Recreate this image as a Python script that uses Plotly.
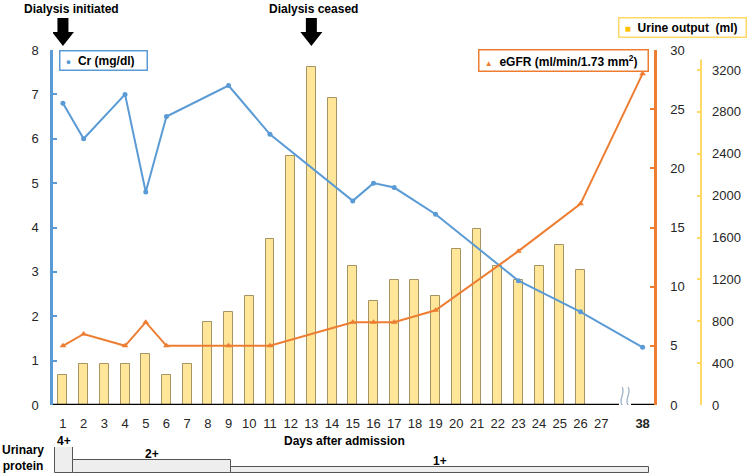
import plotly.graph_objects as go

# ---------------- data ----------------
tick_days = [str(d) for d in range(1, 28)] + ["38"]
tick_pos = list(range(1, 28)) + [29]          # day 38 is drawn after the axis break

urine_days = list(range(1, 27))
urine_ml = [290, 390, 390, 390, 490, 290, 390, 790, 890, 1040, 1590, 2380, 3230,
            2930, 1330, 990, 1190, 1190, 1040, 1490, 1680, 1330, 1190, 1330, 1530, 1290]

cr_days = [1, 2, 4, 5, 6, 9, 11, 15, 16, 17, 19, 23, 26, 38]
cr_mgdl = [6.8, 6.0, 7.0, 4.8, 6.5, 7.2, 6.1, 4.6, 5.0, 4.9, 4.3, 2.8, 2.1, 1.3]

egfr_days = [1, 2, 4, 5, 6, 9, 11, 15, 16, 17, 19, 23, 26, 38]
egfr_vals = [5, 6, 5, 7, 5, 5, 5, 7, 7, 7, 8, 13, 17, 28]

protein_labels = ["4+", "2+", "1+"]
protein_grade = [4, 2, 1]
protein_start = [0.6, 1.5, 9.1]    # axis position where each grade period starts
protein_end = [1.5, 9.1, 29.3]     # axis position where each grade period ends

event_labels = ["Dialysis initiated", "Dialysis ceased"]
event_days = [1, 13]

cr_ticks = list(range(0, 9))
egfr_ticks = list(range(0, 31, 5))
urine_ticks = list(range(0, 3201, 400))


def day_pos(d):
    return tick_pos[tick_days.index(str(d))]


# ---------------- geometry ----------------
W_FIG, H_FIG = 750, 476
L, R, T, B = 53, 12, 50, 3
PW = W_FIG - L - R
PH = H_FIG - T - B


def px(x):
    return (x - L) / PW


def py(y):
    return (H_FIG - B - y) / PH


XDOM_END = px(654)
URINE_POS = px(701)
MAIN_BOTTOM = py(405)
XR = [0.52, 29.55]

BLUE = "#5B9BD5"
ORANGE = "#ED7D31"
YELLOW = "#FFD966"
BARFILL = "#FFE699"
FONT = "Liberation Sans, Arial, sans-serif"
TXT = "#262626"
BOLD = dict(family=FONT, size=12, color="black", weight="bold")

fig = go.Figure()

fig.add_trace(go.Bar(
    x=[day_pos(d) for d in urine_days], y=urine_ml, width=0.43,
    marker=dict(color=BARFILL, line=dict(color="rgba(150,130,80,0.85)", width=1)),
    xaxis="x", yaxis="y", showlegend=False, name="Urine output (ml)"))

fig.add_trace(go.Scatter(
    x=[day_pos(d) for d in cr_days], y=cr_mgdl, mode="lines+markers",
    line=dict(color=BLUE, width=2), marker=dict(symbol="circle", size=5, color=BLUE),
    xaxis="x", yaxis="y2", showlegend=False, name="Cr (mg/dl)"))

fig.add_trace(go.Scatter(
    x=[day_pos(d) for d in egfr_days], y=egfr_vals, mode="lines+markers",
    line=dict(color=ORANGE, width=2), marker=dict(symbol="triangle-up", size=6, color=ORANGE),
    xaxis="x", yaxis="y3", showlegend=False, name="eGFR"))

protein_center = [(s + e) / 2 for s, e in zip(protein_start, protein_end)]
fig.add_trace(go.Bar(
    x=protein_center, y=protein_grade,
    width=[e - s for s, e in zip(protein_start, protein_end)],
    cliponaxis=False,
    marker=dict(color="#EEEEEE", line=dict(color="#555555", width=1)),
    xaxis="x2", yaxis="y4", showlegend=False, name="Urinary protein"))

shapes = []
# x axis baseline with a break
for x0, x1 in [(XR[0], 27.86), (28.44, XR[1])]:
    shapes.append(dict(type="line", xref="x", yref="y", x0=x0, x1=x1, y0=0, y1=0,
                       line=dict(color="black", width=2.5), layer="above"))
for dx in (-3, 3):
    shapes.append(dict(
        type="path", xref="x", yref="y", xsizemode="pixel", ysizemode="pixel",
        xanchor=28.15, yanchor=0,
        path=f"M {dx},18 C {dx+4},12 {dx-4},6 {dx},0 C {dx+4},-6 {dx-4},-12 {dx},-18",
        line=dict(color="#9DB3C8", width=1.3)))
# urine axis line
shapes.append(dict(type="line", xref="paper", yref="y", x0=URINE_POS, x1=URINE_POS,
                   y0=0, y1=3300, line=dict(color=YELLOW, width=2)))
# event arrows
for d in event_days:
    shapes.append(dict(
        type="path", xref="x", yref="paper", xsizemode="pixel", ysizemode="pixel",
        xanchor=day_pos(d), yanchor=1,
        path="M -5.5,32 L 5.5,32 L 5.5,18 L 11,18 L 0,4 L -11,18 L -5.5,18 Z",
        fillcolor="black", line=dict(width=0)))

annotations = []
for lab, d, sh in zip(event_labels, event_days, [9, 2]):
    annotations.append(dict(text=lab, x=day_pos(d), xref="x", y=py(9), yref="paper",
                            xanchor="center", yanchor="middle",
                            xshift=sh, showarrow=False, font=BOLD))

for lab, xc, g in zip(protein_labels, protein_center, protein_grade):
    annotations.append(dict(text=lab, x=xc, y=g, xref="x2", yref="y4",
                            xanchor="center", yanchor="bottom", yshift=-3,
                            showarrow=False, font=BOLD))

annotations.append(dict(text="Days after admission", x=px(344), y=py(441), xref="paper",
                        yref="paper", xanchor="center", yanchor="middle",
                        showarrow=False, font=BOLD))
annotations.append(dict(text="Urinary<br>protein", x=px(23), y=py(458), xref="paper",
                        yref="paper", xanchor="center", yanchor="middle",
                        showarrow=False, align="center", font=BOLD))

legend_boxes = [
    ("Cr (mg/dl)", "●", 9, BLUE, 59, 50, 89),
    ("eGFR (ml/min/1.73 mm<sup>2</sup>)", "▲", 8, ORANGE, 478, 49, 171),
    ("Urine output&nbsp; (ml)", "■", 10, "#FFC000", 618, 17, 129),
]
for label, glyph, gsize, col, bx, by, bw in legend_boxes:
    border = YELLOW if glyph == "■" else col
    annotations.append(dict(
        text=f"&nbsp;<span style='color:{col};font-size:{gsize}px'>{glyph}</span>&nbsp; {label}",
        x=px(bx), y=py(by), xref="paper", yref="paper", xanchor="left", yanchor="top",
        showarrow=False, align="left", width=bw - 7, borderpad=2, borderwidth=1.5,
        bordercolor=border, bgcolor="white", font=BOLD))

tick_text = [t if t != "38" else "<b>38</b>" for t in tick_days]

fig.update_layout(
    width=W_FIG, height=H_FIG, autosize=False,
    margin=dict(l=L, r=R, t=T, b=B, autoexpand=False),
    paper_bgcolor="white", plot_bgcolor="white",
    font=dict(family=FONT, size=13, color=TXT),
    bargap=0,
    xaxis=dict(domain=[0, XDOM_END], range=XR, anchor="y", tickmode="array",
               tickvals=tick_pos, ticktext=tick_text, showgrid=False, zeroline=False,
               showline=False, ticks="", tickfont=dict(size=13, color=TXT),
               ticklabelstandoff=9, automargin=False),
    yaxis=dict(domain=[MAIN_BOTTOM, 1], range=[0, 3391], anchor="free",
               position=URINE_POS, side="right", showgrid=False, zeroline=False,
               showline=False, tickmode="array", tickvals=urine_ticks,
               ticks="inside", ticklen=4, tickwidth=2, tickcolor=YELLOW,
               tickfont=dict(size=13, color=TXT), ticklabelstandoff=10, automargin=False),
    yaxis2=dict(overlaying="y", side="left", anchor="x", range=[0, 8],
                tickmode="array", tickvals=cr_ticks, showgrid=False, zeroline=False,
                showline=True, linecolor=BLUE, linewidth=2.5, ticks="inside",
                ticklen=4, tickwidth=2, tickcolor=BLUE,
                tickfont=dict(size=13, color=TXT), ticklabelstandoff=9, automargin=False),
    yaxis3=dict(overlaying="y", side="right", anchor="x", range=[0, 30],
                tickmode="array", tickvals=egfr_ticks, showgrid=False, zeroline=False,
                showline=True, linecolor=ORANGE, linewidth=2.5, ticks="inside",
                ticklen=4, tickwidth=2, tickcolor=ORANGE,
                tickfont=dict(size=13, color=TXT), ticklabelstandoff=11, automargin=False),
    xaxis2=dict(domain=[0, XDOM_END], matches="x", anchor="y4", visible=False,
                automargin=False),
    yaxis4=dict(domain=[0, 26 / PH], range=[0, 4], anchor="x2", visible=False,
                automargin=False),
    shapes=shapes,
    annotations=annotations,
)

fig.write_html("out.html",
               config={"responsive": False, "displayModeBar": False},
               post_script="document.body.style.margin='0';document.body.style.padding='0';")
